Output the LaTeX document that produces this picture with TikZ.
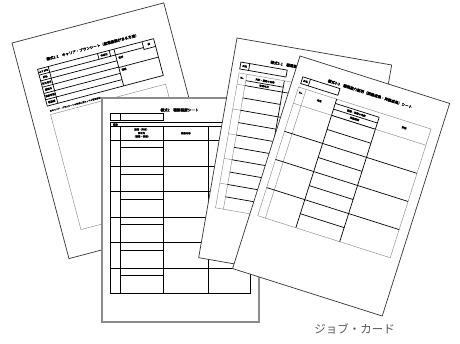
\documentclass[tikz,border=0pt]{standalone}
\usepackage{fontspec}
\newfontfamily\jpfont{Noto Sans CJK JP}
\newfontfamily\jpbold[FakeBold=4]{Noto Sans CJK JP}
\tikzset{
  page/.style={fill=white, draw=black!80, line width=0.7pt},
  pagegray/.style={fill=white, draw=black!45, line width=1.5pt},
  rule/.style={draw=black, line width=0.7pt},
  faint/.style={draw=black!45, line width=0.45pt},
  tt/.style={font=\jpbold\fontsize{2.4}{2.8}\selectfont, inner sep=0pt, transform shape, align=center},
  ttitle/.style={font=\jpbold\fontsize{3.6}{4}\selectfont, inner sep=0pt, transform shape, anchor=west},
  caption/.style={font=\jpfont\fontsize{11.5}{12}\selectfont, text=black!65, inner sep=0pt}
}
\begin{document}
\begin{tikzpicture}[x=1pt,y=-1pt]
\useasboundingbox (0,0) rectangle (460,343);
\fill[white] (0,0) rectangle (460,343);

% ---------- Sheet 1 (back, left) ----------
\begin{scope}[shift={(12,43)}, rotate=14.8]
  \draw[page] (0,0) rectangle (157,223);
  \node[ttitle] (s1title) at (29,24.5) {様式1-1　キャリア・プランシート（就業経験がある方用）};
  \draw[rule] (18,32) rectangle (138,70);
  \draw[rule] (29,32) -- (29,70);
  \foreach \y in {38,44,50.5,57,63.5} \draw[rule] (18,\y) -- (97,\y);
  \draw[rule] (97,32) -- (97,70);
  \draw[rule] (80,32) -- (80,38) (92,32) -- (92,38);
  \draw[rule] (126,32) -- (126,40) -- (138,40);
  \draw[rule] (97,38) -- (126,38);
  \draw[rule] (97,51) -- (138,51);
  \node[tt] (s1l1) at (23.5,35) {ふりがな};
  \node[tt] (s1l2) at (23.5,41) {氏名};
  \node[tt] (s1l3) at (23.5,47.2) {生年月日};
  \node[tt] (s1l4) at (23.5,53.7) {連絡先};
  \node[tt] (s1l5) at (23.5,60.2) {最終学歴};
  \node[tt] (s1l6) at (23.5,66.7) {職務歴};
  \node[tt] (s1l7) at (86,35) {作成日};
  \node[tt] (s1l8) at (132,36) {表};
  \node[tt, anchor=west] (s1l9) at (99,41.5) {住所};
  \node[tt, anchor=west] (s1l10) at (99,54) {電話};
  \node[tt, anchor=west, font=\jpbold\fontsize{2.1}{2.4}\selectfont] (s1note) at (19,75.5) {※キャリア・プランシートの作成に当たっての留意事項};
  \draw[faint] (19,79) rectangle (138,198);
\end{scope}

% ---------- Sheet 2 (front, upright) ----------
\begin{scope}[shift={(102,98)}]
  \draw[pagegray] (0,0) rectangle (157,224);
  \node[ttitle, anchor=center] (s2title) at (77.5,12) {様式2　職務経歴シート};
  \draw[rule] (8,15) rectangle (61,22);
  \draw[rule] (18,15) -- (18,22);
  \draw[rule] (8.7,24.5) rectangle (148,195.3);
  \draw[rule] (8.7,28.7) -- (148,28.7);
  \node[tt] (s2lab) at (13.4,26.6) {職務};
  \draw[rule] (18,28.7) -- (18,195.3) (61.3,28.7) -- (61.3,195.3) (106.3,28.7) -- (106.3,195.3);
  \foreach \y in {42,68,93.7,119.3,144.7,170.3} \draw[rule] (8.7,\y) -- (148,\y);
  \foreach \y in {49.7,76,101,126.7,152,177.3} \draw[rule] (18,\y) -- (61.3,\y);
  \node[tt] (s2h1) at (39.6,31.5) {期間（年月）};
  \node[tt] (s2h2) at (39.6,35) {会社名};
  \node[tt] (s2h3) at (39.6,38.5) {（部署・役職）};
  \node[tt] (s2h4) at (83.8,35.3) {職務内容};
  \node[tt] (s2h5) at (127,35.3) {職務上の成果};
\end{scope}

% ---------- Sheet 3 (middle right) ----------
\begin{scope}[shift={(237,38)}, rotate=-9.9]
  \draw[page] (0,0) rectangle (157,223);
  \node[ttitle] (s3title) at (37,18) {様式3-1　職業能力証明（免許・資格）シート};
  \draw[rule] (8,23) rectangle (55,30);
  \draw[rule] (17,23) -- (17,30);
  \node[tt] (s3name) at (12.5,26.5) {氏名};
  \draw[faint] (8,34) rectangle (150,171);
  \draw[faint] (16,34) -- (16,171);
  \draw[rule] (54,34) -- (54,171);
  \node[tt] (s3no) at (12,38.5) {No.};
  \node[tt] (s3h1) at (35,37.5) {免許・資格の名称};
  \draw[rule] (16,40.5) -- (54,40.5);
  \node[tt] (s3h2) at (35,43) {取得年月};
  \foreach \y in {45.5,70.6,95.7,120.8,145.9} {
    \draw[faint] (8,\y) -- (16,\y);
    \draw[rule] (16,\y) -- (150,\y);
  }
  \foreach \y in {58,83.1,108.2,133.3,158.4} \draw[rule] (16,\y) -- (54,\y);
\end{scope}

% ---------- Sheet 4 (front right) ----------
\begin{scope}[shift={(300,56)}, rotate=-17.6]
  \draw[page] (0,0) rectangle (157,223);
  \node[ttitle] (s4title) at (34,15) {様式3-3　職業能力証明（訓練成果・実務成果）シート};
  \draw[rule] (9,19) rectangle (48,26);
  \draw[rule] (17,19) -- (17,26);
  \node[tt] (s4name) at (13,22.5) {氏名};
  \draw[faint] (8,30) rectangle (147,165);
  \draw[faint] (16,30) -- (16,165);
  \draw[rule] (48,30) -- (48,165);
  \draw[rule] (94,34.5) -- (94,165);
  \draw[rule] (48,34.5) -- (94,34.5);
  \draw[rule] (48,40.5) -- (94,40.5);
  \node[tt] (s4no) at (12,35) {No.};
  \node[tt] (s4h1) at (32,37) {項目};
  \node[tt] (s4h2) at (71,37.5) {訓練・実務の内容};
  \node[tt] (s4h3) at (71,43.5) {実施期間};
  \node[tt] (s4h4) at (121,37) {評価};
  \draw[faint] (8,47) -- (147,47);
  \draw[rule] (48,47) -- (94,47);
  \foreach \y in {76.5,106,135.5} \draw[rule] (8,\y) -- (147,\y);
  \foreach \y in {61.75,91.25,120.75,150.25} \draw[rule] (48,\y) -- (94,\y);
\end{scope}

\node[caption] (cap) at (354.5,329) {ジョブ・カード};
\end{tikzpicture}
\end{document}
